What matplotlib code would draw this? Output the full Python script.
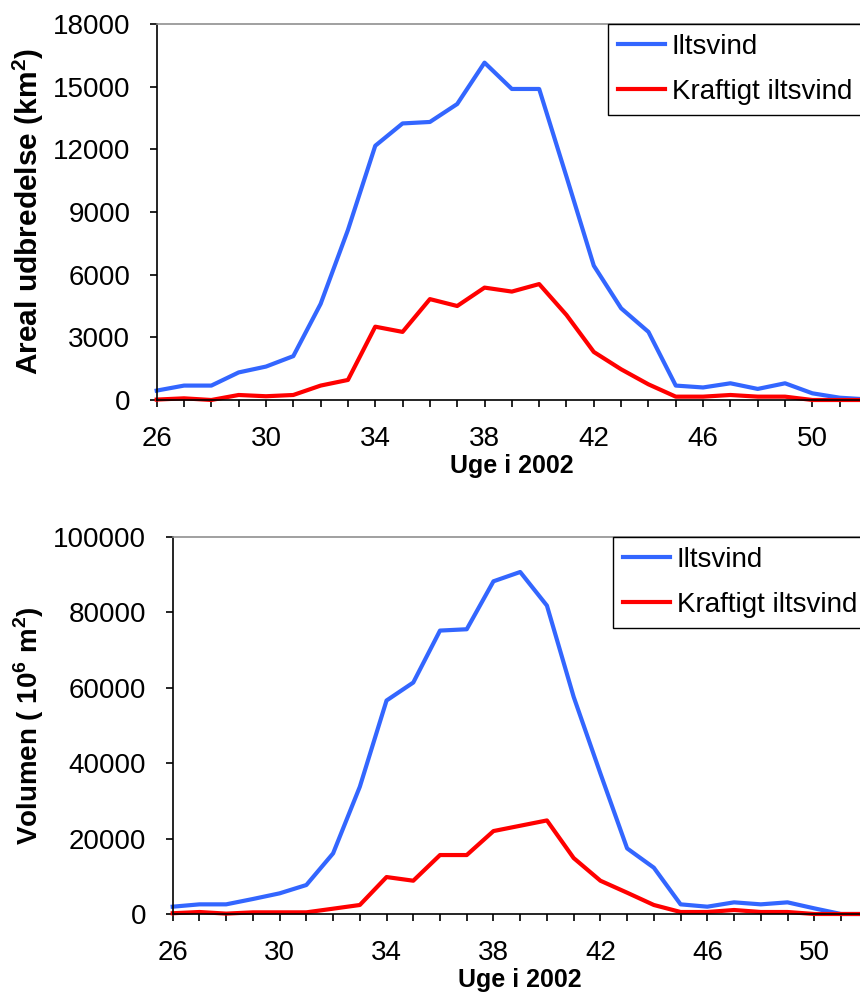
import matplotlib
matplotlib.use("Agg")
import matplotlib.pyplot as plt
from matplotlib.ticker import MultipleLocator, FixedLocator

plt.rcParams['font.family'] = ['Liberation Sans', 'DejaVu Sans']
plt.rcParams['mathtext.fontset'] = 'custom'
plt.rcParams['mathtext.rm'] = 'Liberation Sans'
plt.rcParams['mathtext.bf'] = 'Liberation Sans:bold'

# uger i 2002
uger = list(range(26, 53))

# arealudbredelse (km2)
areal_iltsvind = [450, 690, 690, 1320, 1600, 2100, 4600, 8140, 12170, 13240, 13310,
                  14170, 16150, 14890, 14890, 10690, 6430, 4390, 3260, 690, 600,
                  800, 530, 800, 320, 110, 30]
areal_kraftigt = [20, 80, 0, 240, 180, 240, 690, 960, 3510, 3260, 4830, 4500, 5380,
                  5190, 5550, 4070, 2300, 1470, 750, 160, 160, 240, 160, 160, 0, 0, 0]

# volumen (10^6 m2)
vol_iltsvind = [1940, 2560, 2560, 3980, 5480, 7690, 16080, 33750, 56630, 61400,
                75180, 75530, 88250, 90720, 81800, 57600, 37280, 17400, 12280,
                2560, 1940, 3090, 2560, 3090, 1500, 0, 0]
vol_kraftigt = [200, 530, 100, 440, 440, 440, 1410, 2390, 9800, 8830, 15640, 15640,
                22000, 23410, 24820, 14840, 8830, 5650, 2390, 530, 530, 1060, 530,
                530, 0, 0, 0]

blaa = '#3366ff'
roed = '#ff0000'

fig = plt.figure(figsize=(8.6, 9.98), dpi=100)
W, H = 860, 998


def opsaet(ax, ymax, ystep, ylabel, ysize):
    ax.set_xlim(26, 52)
    ax.set_ylim(0, ymax)
    ax.yaxis.set_major_locator(MultipleLocator(ystep))
    ax.xaxis.set_major_locator(FixedLocator(range(26, 51, 4)))
    ax.xaxis.set_minor_locator(MultipleLocator(1))
    ax.tick_params(axis='both', which='both', direction='out', length=5,
                   width=1.2, labelsize=20, color='black')
    ax.tick_params(axis='y', pad=14)
    ax.tick_params(axis='x', which='major', pad=14)
    ax.spines['right'].set_visible(False)
    ax.spines['top'].set_color('#909090')
    ax.spines['top'].set_linewidth(1.2)
    for s in ('left', 'bottom'):
        ax.spines[s].set_linewidth(1.2)
        ax.spines[s].set_color('black')
    ax.set_ylabel(ylabel, fontsize=ysize, fontweight='bold', labelpad=5)
    ax.set_xlabel('Uge i 2002', fontsize=18, fontweight='bold', labelpad=1)


def legende(ax, x, y):
    leg = ax.legend(loc='upper left', bbox_to_anchor=(x / W, 1 - y / H),
                    bbox_transform=fig.transFigure, fontsize=20, frameon=True,
                    fancybox=False, framealpha=1, edgecolor='black',
                    handlelength=1.7, handletextpad=0.25, borderpad=0.35,
                    labelspacing=0.7, borderaxespad=0)
    leg.get_frame().set_linewidth(1.0)


# oeverste panel: areal
ax1 = fig.add_axes([156.7 / W, 1 - 400 / H, (867 - 156.7) / W, 376 / H])
ax1.plot(uger, areal_iltsvind, color=blaa, lw=3, label='Iltsvind', clip_on=False)
ax1.plot(uger, areal_kraftigt, color=roed, lw=3, label='Kraftigt iltsvind', clip_on=False)
opsaet(ax1, 18000, 3000, r'Areal udbredelse (km$^\mathbf{2}$)', 21.5)
legende(ax1, 608, 24)

# nederste panel: volumen
ax2 = fig.add_axes([172.7 / W, 1 - 914 / H, (867.7 - 172.7) / W, 377 / H])
ax2.plot(uger, vol_iltsvind, color=blaa, lw=3, label='Iltsvind', clip_on=False)
ax2.plot(uger, vol_kraftigt, color=roed, lw=3, label='Kraftigt iltsvind', clip_on=False)
opsaet(ax2, 100000, 20000, r'Volumen ( 10$^\mathbf{6}$ m$^\mathbf{2}$)', 20)
legende(ax2, 613, 537)

fig.savefig('out.png', dpi=100)
